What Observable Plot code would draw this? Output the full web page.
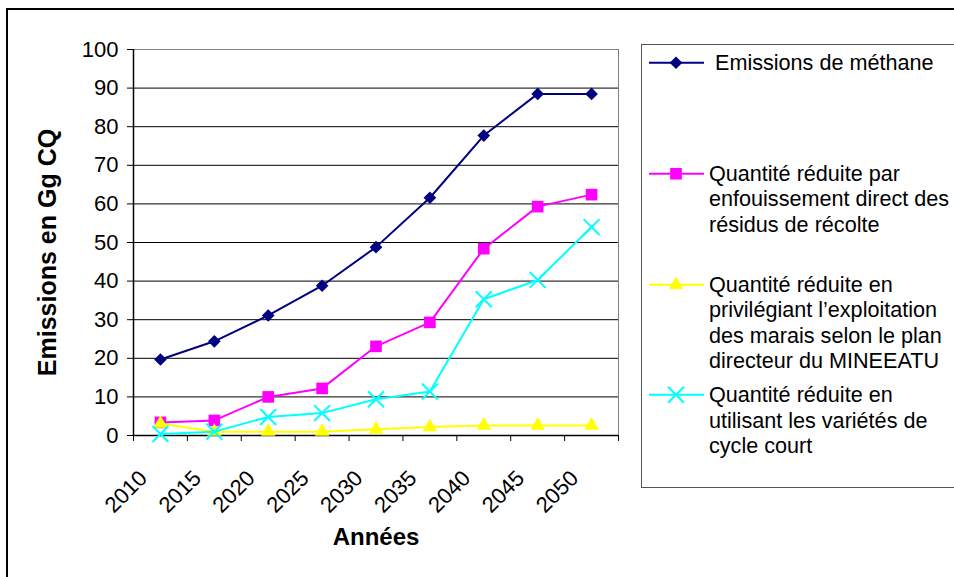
<!DOCTYPE html>
<html><head><meta charset="utf-8">
<script src="https://cdn.jsdelivr.net/npm/d3@7"></script>
<script src="https://cdn.jsdelivr.net/npm/@observablehq/plot@0.6"></script>
<style>
body{margin:0;background:#fff;font-family:"Liberation Sans",Arial,sans-serif;}
#wrap{position:relative;width:954px;height:577px;overflow:hidden;background:#fff}
#chart{position:absolute;left:0;top:0}
#border{position:absolute;left:6px;top:8px;width:980px;height:620px;border:2px solid #000;box-sizing:border-box}
#legend{position:absolute;left:641px;top:44px;width:330px;height:444px;border:1px solid #555;box-sizing:border-box;background:#fff}
.entry{position:absolute;left:0;width:330px}
.entry svg{position:absolute;left:6px}
.entry .txt{position:absolute;left:67px;font-size:21.6px;line-height:25.5px;white-space:pre;color:#000}
#chart g[aria-label="y-title"]{letter-spacing:1px}
</style></head>
<body><div id="wrap"><div id="border"></div><div id="chart"></div><div id="legend"></div></div>
<script>
// categories
const years = ["2010","2015","2020","2025","2030","2035","2040","2045","2050"];
// series values (Gg CO2 eq)
const methane       = [19.7, 24.4, 31.1, 38.8, 48.8, 61.6, 77.7, 88.5, 88.5];
const enfouissement = [3.4, 3.9, 10.0, 12.2, 23.1, 29.3, 48.4, 59.3, 62.4];
const marais        = [3.1, 1.0, 1.0, 1.0, 1.6, 2.2, 2.6, 2.6, 2.6];
const cycleCourt    = [0.4, 1.0, 4.8, 5.8, 9.4, 11.4, 35.3, 40.3, 54.0];
// y ticks
const yTicks = [0,10,20,30,40,50,60,70,80,90,100];
// series labels (legend)
const seriesNames = [
  " Emissions de méthane",
  "Quantité réduite par\nenfouissement direct des\nrésidus de récolte",
  "Quantité réduite en\nprivilégiant l’exploitation\ndes marais selon le plan\ndirecteur du MINEEATU",
  "Quantité réduite en\nutilisant les variétés de\ncycle court"
];
const xTitle = "Années";
const yTitle = "Emissions en Gg CQ";

// styles
const colors  = ["#000080", "#FF00FF", "#FFFF00", "#00FFFF"];
const symbols = ["diamond2", "square2", "triangle2", "times"];
const radii   = [5.7, 7.4, 6.9, 7.3];
const d3sym   = [d3.symbolDiamond2, d3.symbolSquare2, d3.symbolTriangle2, d3.symbolTimes];

const allValues = [methane, enfouissement, marais, cycleCourt];
const tables = allValues.map((vals, k) => vals.map((v, i) => ({x: i + 0.5, year: years[i], value: v, series: k})));

const TFS = 22;
const marks = [
  Plot.gridY(yTicks.filter(d => d > 0 && d < 100), {stroke: "#000", strokeOpacity: 1, strokeWidth: 1}),
  Plot.frame({stroke: "#808080", strokeWidth: 1}),
  Plot.ruleY([0], {stroke: "#000", strokeWidth: 1.5}),
  Plot.ruleX([0], {stroke: "#000", strokeWidth: 1.5}),
  Plot.ruleY(yTicks, {y: d => d, x1: 0, x2: 0, insetLeft: -6, stroke: "#000", strokeWidth: 1}),
  Plot.text(yTicks, {x: 0, y: d => d, text: d => String(d), textAnchor: "end", dx: -15, fontSize: TFS}),
  Plot.ruleX(d3.range(0, years.length + 1), {x: d => d, y1: 0, y2: 0, insetBottom: -6, stroke: "#000", strokeWidth: 1}),
  Plot.text(tables[0], {x: "x", y: 0, text: "year", rotate: -45, textAnchor: "end", lineAnchor: "middle",
    dx: -17, dy: 39, fontSize: TFS}),
  Plot.text([yTitle], {frameAnchor: "left", rotate: -90, dx: -86, dy: 10, textAnchor: "middle", lineAnchor: "middle",
    fontSize: 25, fontWeight: "bold", ariaLabel: "y-title"}),
  Plot.text([xTitle], {frameAnchor: "bottom", dy: 102, lineAnchor: "middle", textAnchor: "middle",
    fontSize: 24, fontWeight: "bold"})
];
tables.forEach((t, k) => {
  marks.push(Plot.line(t, {x: "x", y: "value", stroke: colors[k], strokeWidth: 2}));
  if (symbols[k] === "times")
    marks.push(Plot.dot(t, {x: "x", y: "value", symbol: symbols[k], stroke: colors[k], strokeWidth: 2, r: radii[k]}));
  else
    marks.push(Plot.dot(t, {x: "x", y: "value", symbol: symbols[k], fill: colors[k], stroke: "none", r: radii[k]}));
});

const chart = Plot.plot({
  width: 954, height: 577,
  marginLeft: 133, marginRight: 336, marginTop: 49, marginBottom: 142,
  style: {fontFamily: '"Liberation Sans", Arial, sans-serif', color: "#000", background: "transparent", overflow: "visible"},
  x: {type: "linear", domain: [0, years.length], axis: null},
  y: {domain: [0, 100], axis: null},
  marks
});
document.getElementById("chart").appendChild(chart);

// legend
const legend = document.getElementById("legend");
seriesNames.forEach((name, k) => {
  const center = 63 + 110.7 * k - 44 - 1;
  const e = document.createElement("div");
  e.className = "entry";
  e.style.top = (center - 12.75) + "px";
  const s = d3.create("svg").attr("width", 56).attr("height", 26).style("top", "0px");
  s.append("line").attr("x1", 1).attr("x2", 56).attr("y1", 12.75).attr("y2", 12.75)
    .attr("stroke", colors[k]).attr("stroke-width", 2);
  const sz = Math.PI * radii[k] * radii[k];
  const p = s.append("path").attr("transform", `translate(28,12.75)`).attr("d", d3.symbol(d3sym[k], sz)());
  if (symbols[k] === "times") p.attr("fill", "none").attr("stroke", colors[k]).attr("stroke-width", 2);
  else p.attr("fill", colors[k]);
  e.appendChild(s.node());
  const tx = document.createElement("div");
  tx.className = "txt";
  tx.textContent = name;
  e.appendChild(tx);
  legend.appendChild(e);
});
</script>
</body></html>
